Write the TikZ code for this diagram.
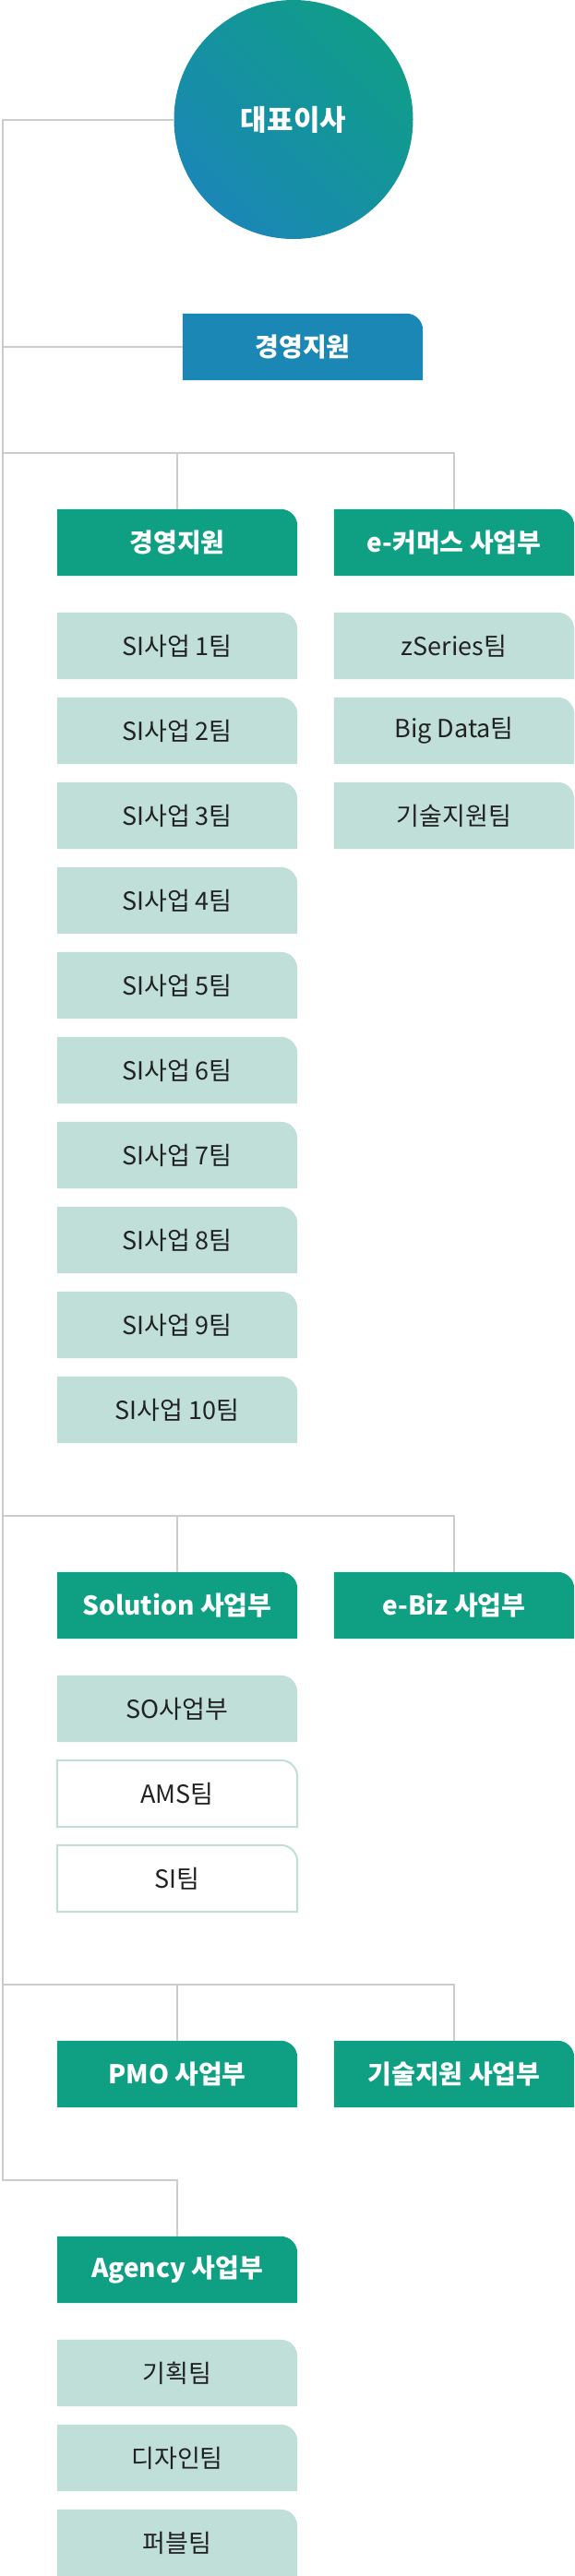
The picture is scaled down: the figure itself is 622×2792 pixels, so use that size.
\documentclass[tikz,border=0pt]{standalone}
\usepackage{fontspec}
\setmainfont{Noto Sans CJK KR}
\usepackage{xcolor}
\usetikzlibrary{positioning, calc}

\definecolor{ceoteal}{RGB}{16,157,136}
\definecolor{ceoblue}{RGB}{26,135,182}
\definecolor{topblue}{RGB}{26,135,180}
\definecolor{deptgreen}{RGB}{15,160,132}
\definecolor{teamfill}{RGB}{191,223,216}
\definecolor{linkgray}{RGB}{204,204,204}
\definecolor{teamtext}{RGB}{34,34,34}

\begin{document}
\begin{tikzpicture}[
  x=1pt, y=1pt,
  tab/.style={minimum width=260pt, minimum height=72pt, inner sep=0pt,
              append after command={\pgfextra{\path[#1]
                (\tikzlastnode.south west) -- (\tikzlastnode.north west)
                -- ([xshift=-18pt]\tikzlastnode.north east)
                arc[start angle=90, end angle=0, radius=18pt]
                -- (\tikzlastnode.south east) -- cycle;}}},
  ceo/.style={circle, minimum size=259pt, inner sep=0pt,
              top color=ceoteal, bottom color=ceoblue, shading angle=-45,
              text=white, font=\fontsize{31}{36}\selectfont\bfseries},
  topbox/.style={tab={fill=topblue}, text=white, font=\fontsize{28}{32}\selectfont\bfseries},
  dept/.style={tab={fill=deptgreen}, text=white, font=\fontsize{28}{32}\selectfont\bfseries},
  team/.style={tab={fill=teamfill}, text=teamtext, font=\fontsize{27}{32}\selectfont},
  teamline/.style={tab={fill=white, draw=teamfill, line width=2pt}, text=teamtext,
                   font=\fontsize{27}{32}\selectfont},
  link/.style={draw=linkgray, line width=2pt}
]
\fill[white] (0,0) rectangle (622,-2792);
\useasboundingbox (0,0) rectangle (622,-2792);

% top
\node[ceo] (ceo) at (318,-129.5) {대표이사};
\node[topbox] (mgmt) at (328,-376) {경영지원};

% spine and buses
\coordinate (spine) at (2.5,0);
\coordinate (bus1) at (0,-491);
\coordinate (bus2) at (0,-1643);
\coordinate (bus3) at (0,-2151);
\coordinate (bus4) at (0,-2363);

% first row
\node[dept] (gm) at (192,-588) {경영지원};
\node[dept] (ecom) at (492,-588) {e-커머스 사업부};
\foreach \i in {1,...,10}
  \node[team] (si\i) at (192,{-608-92*\i}) {SI사업 {\i}팀};
\foreach \t [count=\i] in {zSeries팀, Big Data팀, 기술지원팀}
  \node[team] (ec\i) at (492,{-608-92*\i}) {\t};

% second row
\node[dept] (sol) at (192,-1740) {Solution 사업부};
\node[dept] (ebiz) at (492,-1740) {e-Biz 사업부};
\node[team] (so) at (192,-1852) {SO사업부};
\node[teamline] (ams) at (192,-1944) {AMS팀};
\node[teamline] (sit) at (192,-2036) {SI팀};

% third row
\node[dept] (pmo) at (192,-2248) {PMO 사업부};
\node[dept] (tech) at (492,-2248) {기술지원 사업부};

% agency
\node[dept] (agency) at (192,-2460) {Agency 사업부};
\node[team] (plan) at (192,-2572) {기획팀};
\node[team] (design) at (192,-2664) {디자인팀};
\node[team] (pub) at (192,-2756) {퍼블팀};

% connectors
\draw[link] (ceo.west) -| (spine |- bus4) -| (agency.north);
\draw[link] (mgmt.west) -- (mgmt.west -| spine);
\draw[link] (spine |- bus1) -| (ecom.north);
\draw[link] (gm.north) -- (gm.north |- bus1);
\draw[link] (spine |- bus2) -| (ebiz.north);
\draw[link] (sol.north) -- (sol.north |- bus2);
\draw[link] (spine |- bus3) -| (tech.north);
\draw[link] (pmo.north) -- (pmo.north |- bus3);
\end{tikzpicture}
\end{document}
